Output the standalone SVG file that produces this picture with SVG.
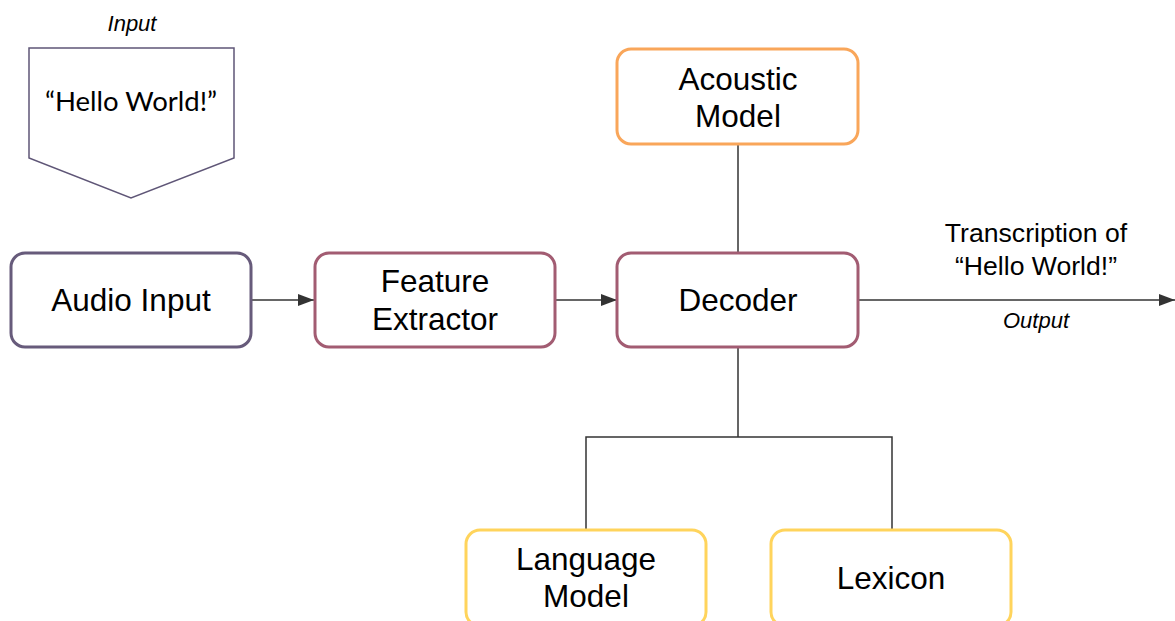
<svg xmlns="http://www.w3.org/2000/svg" width="1175" height="621" viewBox="0 0 1175 621">
  <style>
    .box { fill: #ffffff; stroke-width: 3; }
    .purple { stroke: #675b7b; }
    .maroon { stroke: #a25c72; }
    .orange { stroke: #f9a65a; }
    .yellow { stroke: #ffd45c; }
    .label { font-family: "Liberation Sans", Arial, sans-serif; font-size: 31.5px; fill: #000000; text-anchor: middle; }
    .note { font-family: "Liberation Sans", Arial, sans-serif; font-size: 22px; font-style: italic; fill: #000000; text-anchor: middle; }
    .caption { font-family: "Liberation Sans", Arial, sans-serif; font-size: 26.6px; fill: #000000; text-anchor: middle; }
    .wire { fill: none; stroke: #333333; stroke-width: 1.5; }
  </style>
  <defs>
    <marker id="arrow" viewBox="0 0 16 12" refX="16" refY="6" markerWidth="16" markerHeight="12" markerUnits="userSpaceOnUse" orient="auto">
      <path d="M0,0 L16,6 L0,12 Z" fill="#333333"/>
    </marker>
  </defs>
  <rect width="1175" height="621" fill="#ffffff"/>

  <!-- input document shape -->
  <g id="input">
    <text class="note" x="132" y="31">Input</text>
    <path d="M29,48 L234,48 L234,158 L131,198 L29,158 Z" fill="#ffffff" stroke="#5f5677" stroke-width="1.5"/>
    <text x="131" y="111" font-family="Lato, 'Liberation Sans', sans-serif" font-size="27.5" text-anchor="middle" fill="#000000">“Hello World!”</text>
  </g>

  <!-- connectors -->
  <g id="connectors">
    <line class="wire" x1="252" y1="300" x2="314" y2="300" marker-end="url(#arrow)"/>
    <line class="wire" x1="555" y1="300" x2="617" y2="300" marker-end="url(#arrow)"/>
    <line class="wire" x1="858" y1="300" x2="1175" y2="300" marker-end="url(#arrow)"/>
    <line class="wire" x1="738" y1="144" x2="738" y2="253"/>
    <path class="wire" d="M738,347 L738,437 M586,530 L586,437 L892,437 L892,530"/>
  </g>

  <g id="audio-input">
    <rect class="box purple" x="11" y="253" width="240" height="94" rx="14"/>
    <text class="label" x="131" y="311">Audio Input</text>
  </g>

  <g id="feature-extractor">
    <rect class="box maroon" x="315" y="253" width="240" height="94" rx="14"/>
    <text class="label" x="435" y="292">Feature</text>
    <text class="label" x="435" y="330">Extractor</text>
  </g>

  <g id="decoder">
    <rect class="box maroon" x="617" y="253" width="241" height="94" rx="14"/>
    <text class="label" x="738" y="311">Decoder</text>
  </g>

  <g id="acoustic-model">
    <rect class="box orange" x="617" y="49" width="241" height="95" rx="14"/>
    <text class="label" x="738" y="90">Acoustic</text>
    <text class="label" x="738" y="127">Model</text>
  </g>

  <g id="language-model">
    <rect class="box yellow" x="466" y="530" width="240" height="96" rx="14"/>
    <text class="label" x="586" y="570">Language</text>
    <text class="label" x="586" y="607">Model</text>
  </g>

  <g id="lexicon">
    <rect class="box yellow" x="771" y="530" width="240" height="96" rx="14"/>
    <text class="label" x="891" y="589">Lexicon</text>
  </g>

  <g id="output">
    <text class="caption" x="1036" y="242">Transcription of</text>
    <text class="caption" x="1036" y="275">“Hello World!”</text>
    <text class="note" x="1036" y="328">Output</text>
  </g>
</svg>
